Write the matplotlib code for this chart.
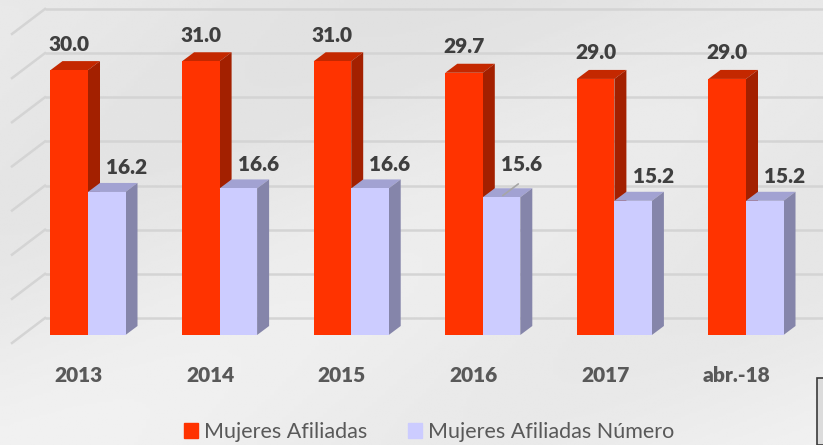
import numpy as np
import matplotlib.pyplot as plt
from matplotlib.patches import Polygon, Patch, Rectangle

categories = ['2013', '2014', '2015', '2016', '2017', 'abr.-18']
afiliadas = [30.0, 31.0, 31.0, 29.7, 29.0, 29.0]
afiliadas_numero = [16.2, 16.6, 16.6, 15.6, 15.2, 15.2]
series_names = ['Mujeres Afiliadas', 'Mujeres Afiliadas Número']

W, H = 823, 445
PX_X = 131.6          # pixels per category
PX_Y = 8.83           # pixels per value unit
X0_PX, Y0_PX = 88, 335

red = ['#ff3300', '#c42800', '#a32000']       # front, top, side
lav = ['#ccccff', '#a2a2d2', '#8585aa']
txt = '#3f3f3f'
tick_c = '#595959'

fig = plt.figure(figsize=(W / 100, H / 100), dpi=100)
fig.patch.set_facecolor('#e8e8e8')

# soft background gradient
bg = fig.add_axes([0, 0, 1, 1], zorder=-10)
yy, xx = np.mgrid[0:1:200j, 0:1:200j]
grad = 0.93 - 0.035 * yy[::-1] + 0.015 * np.cos(6 * (xx + yy))
bg.imshow(grad, cmap='gray', vmin=0, vmax=1, aspect='auto', extent=[0, 1, 0, 1])
bg.axis('off')

ax = fig.add_axes([0, 0, 1, 1])
ax.patch.set_alpha(0)
ax.set_xlim(-X0_PX / PX_X, (W - X0_PX) / PX_X)
ax.set_ylim((Y0_PX - H) / PX_Y, Y0_PX / PX_Y)
ax.axis('off')

# 3D offsets in data units
bdx, bdy = 12 / PX_X, 9 / PX_Y          # bar depth
wdx, wdy = 33 / PX_X, 25 / PX_Y         # floor/wall depth
front_gap = 8 / PX_Y                    # floor front edge below bars
xl = (12 - X0_PX) / PX_X
xr = (W - X0_PX) / PX_X

# back wall and side wall gridlines
for g in range(0, 40, 5):
    yb = g - front_gap + wdy
    ax.plot([xl + wdx, xr], [yb, yb], color='#d4d4d4', lw=1.8, zorder=1,
            solid_capstyle='butt')
    ax.plot([xl, xl + wdx], [g - front_gap, yb], color='#d4d4d4', lw=1.8,
            zorder=1)

w = 0.285
x = np.arange(len(categories))


def box(x_left, v, cols, z):
    ax.bar(x_left, v, w, align='edge', color=cols[0], edgecolor='none', zorder=z + 0.2)
    top = [(x_left, v), (x_left + bdx, v + bdy), (x_left + w + bdx, v + bdy), (x_left + w, v)]
    side = [(x_left + w, 0), (x_left + w + bdx, bdy), (x_left + w + bdx, v + bdy), (x_left + w, v)]
    ax.add_patch(Polygon(top, closed=True, color=cols[1], lw=0, zorder=z))
    ax.add_patch(Polygon(side, closed=True, color=cols[2], lw=0, zorder=z))


lab_font = dict(family=['Lato', 'DejaVu Sans'], fontweight='heavy', fontsize=15)

for i in x:
    box(i - w, afiliadas[i], red, 3)
    box(i, afiliadas_numero[i], lav, 5)
    ax.annotate(f'{afiliadas[i]:.1f}', (i - w / 2, afiliadas[i]),
                xytext=(0, 26), textcoords='offset pixels', ha='center',
                va='center', color=txt, zorder=10, **lab_font)
    dy = 33 if categories[i] == '2016' else 24
    ax.annotate(f'{afiliadas_numero[i]:.1f}', (i + w / 2, afiliadas_numero[i]),
                xytext=(20, dy), textcoords='offset pixels', ha='center',
                va='center', color=txt, zorder=10, **lab_font)
    ax.text(i - 0.07, 1 - 375 / H, categories[i], transform=ax.get_xaxis_transform(),
            ha='center', va='center', color=tick_c, **lab_font)

# leader line for the raised 2016 label
k = categories.index('2016')
ax.annotate('', (k + w / 2 - 1 / PX_X, afiliadas_numero[k]),
            xytext=(20, 15), textcoords='offset pixels',
            arrowprops=dict(arrowstyle='-', color='#a6a6a6', lw=1.2), zorder=11)

handles = [Patch(color=red[0]), Patch(color=lav[0])]
fig.legend(handles, series_names, loc='center', bbox_to_anchor=(0.521, 1 - 432 / H),
           ncol=2, frameon=False, prop=dict(family=['Lato', 'DejaVu Sans'], size=15.5),
           labelcolor=tick_c, handlelength=0.65, handleheight=0.65,
           handletextpad=0.28, columnspacing=1.9, borderaxespad=0)

# frame corner in the lower right
fig.patches.append(Rectangle((817 / W, 0), 0.05, 1 - 378 / H, transform=fig.transFigure,
                             facecolor='#dcdcdc', edgecolor='#3a3a3a', lw=1.2))

fig.savefig('out.png', dpi=100, facecolor=fig.get_facecolor())
